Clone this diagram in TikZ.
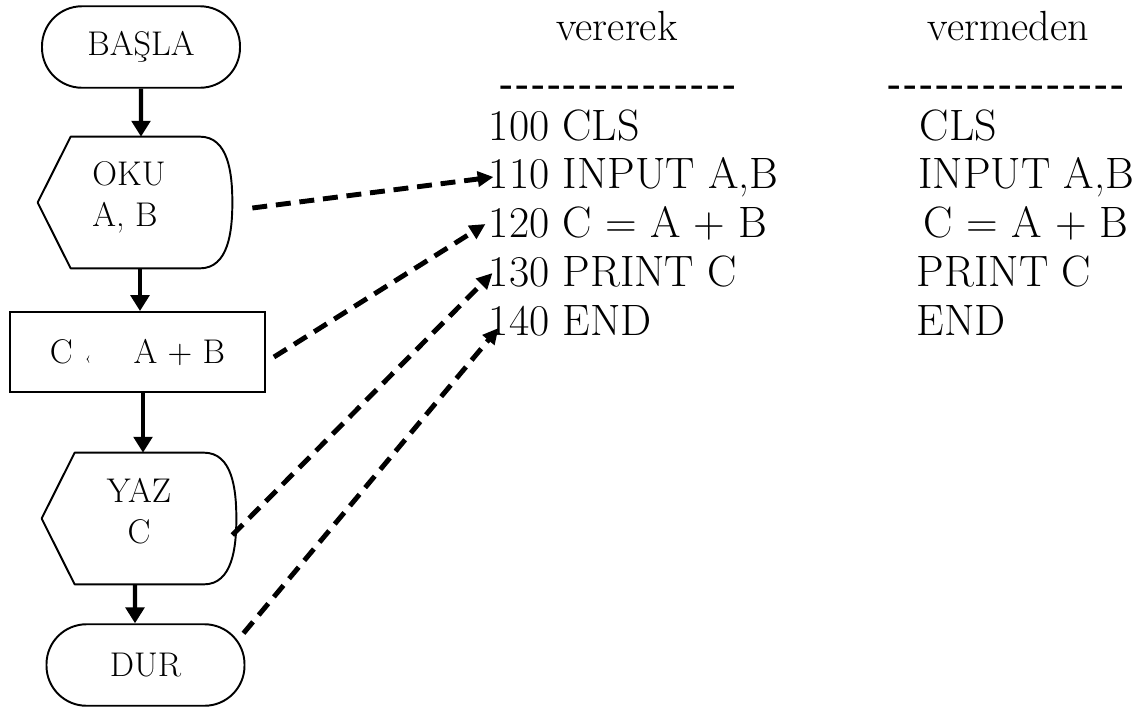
\documentclass[tikz,border=0pt]{standalone}
\usepackage{fontspec}
\usetikzlibrary{arrows.meta}

\newcommand{\dashrow}[1]{\foreach \k in {1,...,#1}{-\kern1.55pt}}
\newcommand{\ioshape}[1]{\draw[outline] (#1.west) -- ([xshift=0.66cm]#1.north west) -- ([xshift=-0.65cm]#1.north east) to[out=0, in=90] (#1.east) to[out=-90, in=0] ([xshift=-0.65cm]#1.south east) -- ([xshift=0.66cm]#1.south west) -- cycle;}

\begin{document}
\begin{tikzpicture}[
		term/.style={draw, rectangle, rounded corners=0.8cm, line width=1.1pt, minimum width=3.96cm, minimum height=1.63cm, font=\fontsize{19.5}{22}\selectfont},
		proc/.style={draw, rectangle, line width=1.1pt, minimum width=5.1cm, minimum height=1.6cm, font=\fontsize{19.5}{22}\selectfont},
		io/.style={rectangle, inner sep=0pt, minimum width=3.88cm, minimum height=2.62cm},
		iotext/.style={inner sep=0pt, font=\fontsize{19.5}{23.5}\selectfont},
		outline/.style={line width=1.1pt, line join=round},
		code/.style={anchor=west, inner sep=0pt, text height=17.1pt, text depth=0pt, font=\fontsize{25}{29}\selectfont},
		head/.style={anchor=base, inner sep=0pt, font=\fontsize{24}{28}\selectfont},
		dashes/.style={anchor=base west, inner sep=0pt, font=\fontsize{20}{24}\selectfont\bfseries},
		flow/.style={line width=2.3pt, -{Triangle[length=9pt, width=10.5pt]}},
		link/.style={line width=2.8pt, dash pattern=on 8.5pt off 5pt, -{Triangle[length=9pt, width=8.5pt]}}
	]
	\useasboundingbox (0,0) rectangle (22.68,-14.16);

	% flowchart
	\node[term] (basla)at(2.82, -0.94) {BAŞLA};
	\node[io, label={[iotext, align=left, xshift=-0.12cm, yshift=0.11cm]center:{OKU\\A, B}}] (oku)at(2.70, -4.05) {};
	\node[proc] (hesap)at(2.75, -7.04) {C\hspace{0.24cm}{\fontsize{9}{9}\selectfont ‹}\hspace{0.85cm}A + B};
	\node[io, label={[iotext, align=center, yshift=0.15cm]center:{YAZ\\C}}] (yaz)at(2.78, -10.37) {};
	\node[term] (dur)at(2.91, -13.30) {DUR};
	\ioshape{oku}
	\ioshape{yaz}

	\draw[flow] (basla.south) -- ([xshift=0.12cm]oku.north);
	\draw[flow] ([xshift=0.10cm]oku.south) -- ([xshift=0.05cm]hesap.north);
	\draw[flow] ([xshift=0.11cm]hesap.south) -- ([xshift=0.08cm]yaz.north);
	\draw[flow] ([xshift=-0.08cm]yaz.south) -- ([xshift=-0.21cm]dur.north);

	% program listings
	\node[head] (vererek)at(12.34, -0.80) {vererek};
	\node[head] (vermeden)at(20.17, -0.80) {vermeden};
	\node[dashes] (cizgi1)at(10.00, -1.90) {\dashrow{15}};
	\node[dashes] (cizgi2)at(17.76, -1.90) {\dashrow{15}};

	\node[code] (l100)at(9.77, -2.50) {100 CLS};
	\node[code] (l110)at(9.77, -3.46) {110 INPUT A,B};
	\node[code] (l120)at(9.77, -4.44) {120 C = A + B};
	\node[code] (l130)at(9.77, -5.42) {130 PRINT C};
	\node[code] (l140)at(9.77, -6.40) {140 END};

	\node[code] (r100)at(18.39, -2.50) {CLS};
	\node[code] (r110)at(18.36, -3.46) {INPUT A,B};
	\node[code] (r120)at(18.47, -4.44) {C = A + B};
	\node[code] (r130)at(18.33, -5.42) {PRINT C};
	\node[code] (r140)at(18.33, -6.40) {END};

	\draw[link] ([shift={(0.4,-0.11)}]oku.east) -- ([shift={(0.1,-0.08)}]l110.west);
	\draw[link] ([shift={(0.16,-0.1)}]hesap.east) -- ([shift={(-0.06,-0.04)}]l120.west);
	\draw[link] ([shift={(-0.08,-0.33)}]yaz.east) -- ([shift={(0.08,-0.04)}]l130.west);
	\draw[link] ([shift={(-0.04,-0.2)}]dur.north east) -- ([shift={(0.2,-0.16)}]l140.west);
\end{tikzpicture}
\end{document}
